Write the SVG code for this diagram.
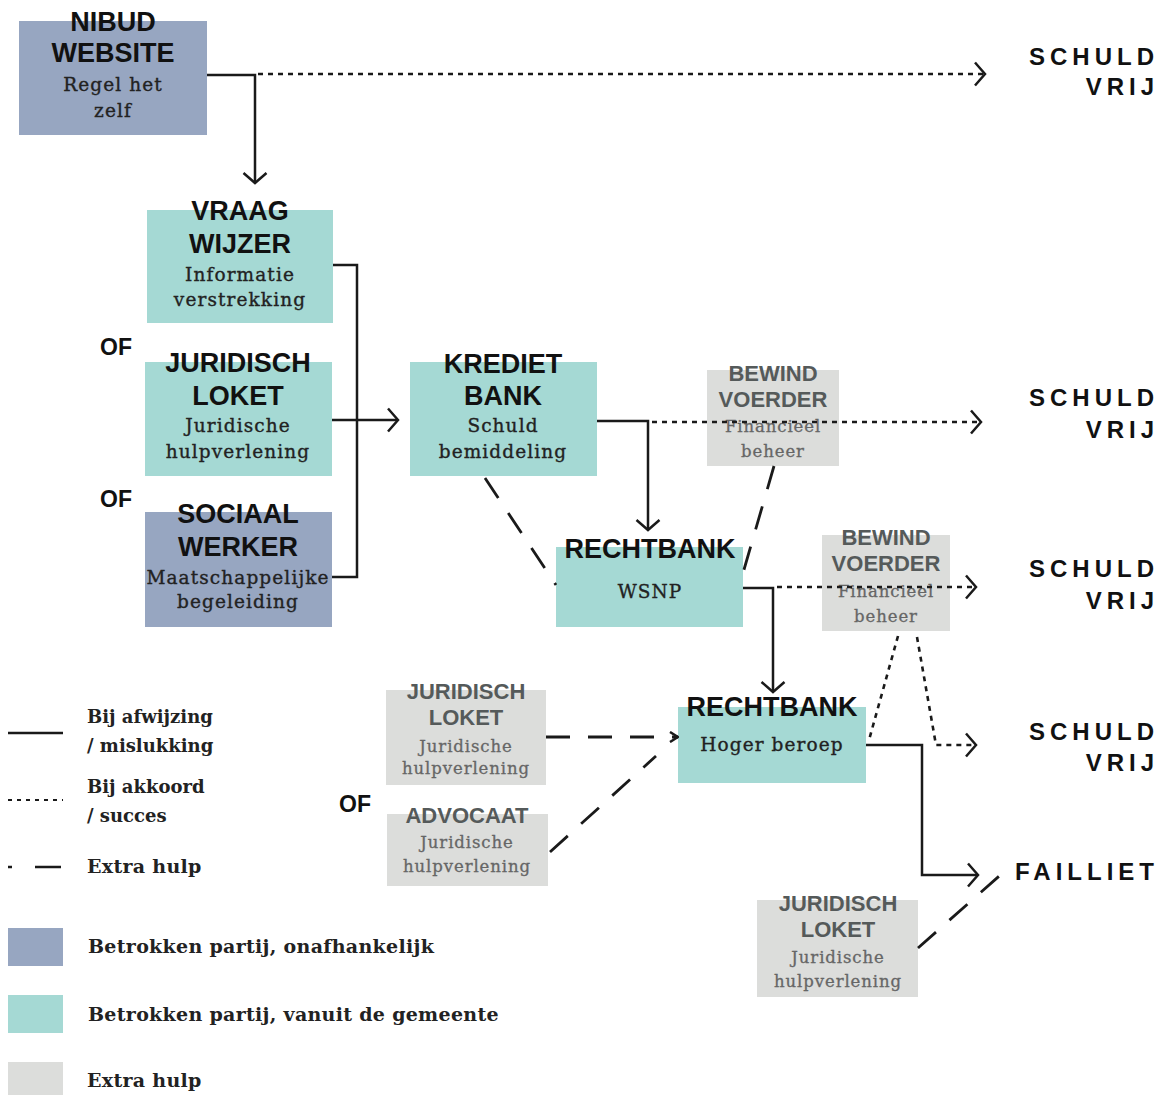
<svg xmlns="http://www.w3.org/2000/svg" width="1162" height="1095" viewBox="0 0 1162 1095">
<style>
.blue{fill:#97a6c1}
.teal{fill:#a5d9d4}
.gray{fill:#dcdddb}
.t{font-family:"Liberation Sans",Arial,sans-serif;font-weight:bold;font-size:27px;fill:#111;text-anchor:middle}
.tg{font-family:"Liberation Sans",Arial,sans-serif;font-weight:bold;font-size:22px;fill:#555a5a;text-anchor:middle}
.s{font-family:"DejaVu Serif",serif;font-size:18.5px;letter-spacing:1.1px;fill:#222;stroke:#222;stroke-width:0.35;text-anchor:middle}
.sg{font-family:"DejaVu Serif",serif;font-size:16.5px;letter-spacing:0.9px;fill:#666;stroke:#666;stroke-width:0.3;text-anchor:middle}
.end{font-family:"Liberation Sans",Arial,sans-serif;font-weight:bold;font-size:24px;letter-spacing:5px;fill:#111;text-anchor:end}
.of{font-family:"Liberation Sans",Arial,sans-serif;font-weight:bold;font-size:23px;fill:#111}
.lg{font-family:"DejaVu Serif",serif;font-weight:bold;font-size:18px;fill:#222}
.lg2{font-family:"DejaVu Serif",serif;font-weight:bold;font-size:19px;letter-spacing:0.3px;fill:#222}
.solid{fill:none;stroke:#1a1a1a;stroke-width:2.5}
.dot{fill:none;stroke:#1a1a1a;stroke-width:2.6;stroke-dasharray:5 5}
.dash{fill:none;stroke:#1a1a1a;stroke-width:2.8;stroke-dasharray:24 18}
</style>
<defs>
<marker id="arr" viewBox="0 0 13 26" refX="11.5" refY="13" markerWidth="13" markerHeight="26" markerUnits="userSpaceOnUse" orient="auto">
<path d="M1.5,1.5 L11.5,13 L1.5,24.5" fill="none" stroke="#1a1a1a" stroke-width="2.5"/>
</marker>
<marker id="arrs" viewBox="0 0 10 12" refX="9" refY="6" markerWidth="10" markerHeight="12" markerUnits="userSpaceOnUse" orient="auto">
<path d="M1,1 L9,6 L1,11" fill="none" stroke="#1a1a1a" stroke-width="2.5"/>
</marker>
</defs>
<rect width="1162" height="1095" fill="#ffffff"/>

<g id="nibud">
<rect class="blue" x="19" y="21" width="188" height="114"/>
<text class="t" x="113" y="31">NIBUD</text>
<text class="t" x="113" y="62">WEBSITE</text>
<text class="s" x="113" y="91">Regel het</text>
<text class="s" x="113" y="117">zelf</text>
</g>
<g id="vraagwijzer">
<rect class="teal" x="147" y="210" width="186" height="113"/>
<text class="t" x="240" y="220">VRAAG</text>
<text class="t" x="240" y="253">WIJZER</text>
<text class="s" x="240" y="281">Informatie</text>
<text class="s" x="240" y="306">verstrekking</text>
</g>
<g id="juridisch1">
<rect class="teal" x="145" y="362" width="187" height="114"/>
<text class="t" x="238" y="372">JURIDISCH</text>
<text class="t" x="238" y="405">LOKET</text>
<text class="s" x="238" y="432">Juridische</text>
<text class="s" x="238" y="458">hulpverlening</text>
</g>
<g id="sociaal">
<rect class="blue" x="145" y="512" width="187" height="115"/>
<text class="t" x="238" y="523">SOCIAAL</text>
<text class="t" x="238" y="556">WERKER</text>
<text class="s" x="238" y="584">Maatschappelijke</text>
<text class="s" x="238" y="608">begeleiding</text>
</g>
<g id="of-labels">
<text class="of" x="100" y="355">OF</text>
<text class="of" x="100" y="507">OF</text>
<text class="of" x="339" y="812">OF</text>
</g>
<g id="kredietbank">
<rect class="teal" x="410" y="362" width="187" height="114"/>
<text class="t" x="503" y="373">KREDIET</text>
<text class="t" x="503" y="405">BANK</text>
<text class="s" x="503" y="432">Schuld</text>
<text class="s" x="503" y="458">bemiddeling</text>
</g>
<g id="bewind1">
<rect class="gray" x="707" y="370" width="132" height="96"/>
<text class="tg" x="773" y="381">BEWIND</text>
<text class="tg" x="773" y="407">VOERDER</text>
<text class="sg" x="773" y="432">Financieel</text>
<text class="sg" x="773" y="457">beheer</text>
</g>
<g id="wsnp">
<rect class="teal" x="556" y="547" width="187" height="80"/>
<text class="t" x="650" y="558">RECHTBANK</text>
<text class="s" x="650" y="598">WSNP</text>
</g>
<g id="bewind2">
<rect class="gray" x="822" y="535" width="128" height="96"/>
<text class="tg" x="886" y="545">BEWIND</text>
<text class="tg" x="886" y="571">VOERDER</text>
<text class="sg" x="886" y="597">Financieel</text>
<text class="sg" x="886" y="622">beheer</text>
</g>
<g id="hogerberoep">
<rect class="teal" x="678" y="707" width="188" height="76"/>
<text class="t" x="772" y="716">RECHTBANK</text>
<text class="s" x="772" y="751">Hoger beroep</text>
</g>
<g id="juridisch2">
<rect class="gray" x="386" y="690" width="160" height="95"/>
<text class="tg" x="466" y="699">JURIDISCH</text>
<text class="tg" x="466" y="725">LOKET</text>
<text class="sg" x="466" y="752">Juridische</text>
<text class="sg" x="466" y="774">hulpverlening</text>
</g>
<g id="advocaat">
<rect class="gray" x="387" y="814" width="161" height="72"/>
<text class="tg" x="467" y="823">ADVOCAAT</text>
<text class="sg" x="467" y="848">Juridische</text>
<text class="sg" x="467" y="872">hulpverlening</text>
</g>
<g id="juridisch3">
<rect class="gray" x="757" y="900" width="161" height="97"/>
<text class="tg" x="838" y="911">JURIDISCH</text>
<text class="tg" x="838" y="937">LOKET</text>
<text class="sg" x="838" y="963">Juridische</text>
<text class="sg" x="838" y="987">hulpverlening</text>
</g>
<g id="schuldvrij1">
<text class="end" x="1159" y="65">SCHULD</text>
<text class="end" x="1159" y="95">VRIJ</text>
</g>
<g id="schuldvrij2">
<text class="end" x="1159" y="406">SCHULD</text>
<text class="end" x="1159" y="438">VRIJ</text>
</g>
<g id="schuldvrij3">
<text class="end" x="1159" y="577">SCHULD</text>
<text class="end" x="1159" y="609">VRIJ</text>
</g>
<g id="schuldvrij4">
<text class="end" x="1159" y="740">SCHULD</text>
<text class="end" x="1159" y="771">VRIJ</text>
</g>
<g id="failliet">
<text class="end" x="1159" y="880">FAILLIET</text>
</g>

<g id="connectors">
<path class="solid" d="M207,75 H255 V183" marker-end="url(#arr)"/>
<path class="dot" d="M258,74 H985" marker-end="url(#arr)"/>
<path class="solid" d="M333,265 H357 V577 H332"/>
<path class="solid" d="M332,420 H398" marker-end="url(#arr)"/>
<path class="solid" d="M597,421 H648 V530" marker-end="url(#arr)"/>
<path class="dot" d="M652,422 H981" marker-end="url(#arr)"/>
<path class="dash" d="M485,478 L556,585"/>
<path class="dash" d="M774,466 L741,580"/>
<path class="solid" d="M743,588 H773 V692" marker-end="url(#arr)"/>
<path class="dot" d="M777,587 H976" marker-end="url(#arr)"/>
<path class="dot" d="M898,636 L869,740"/>
<path class="dot" d="M917,637 L936,745 H976" marker-end="url(#arr)"/>
<path class="solid" d="M866,745 H922 V875 H978" marker-end="url(#arr)"/>
<path class="dash" d="M546,737 H678" marker-end="url(#arrs)"/>
<path class="dash" d="M550,852 L656,756"/>
<path class="dash" d="M918,948 L1006,870"/>
</g>

<g id="legend">
<path class="solid" d="M8,733 H63"/>
<text class="lg" x="87" y="723">Bij afwijzing</text>
<text class="lg" x="87" y="752">/ mislukking</text>
<path fill="none" stroke="#1a1a1a" stroke-width="1.8" stroke-dasharray="4 5" d="M8,800 H63"/>
<text class="lg" x="87" y="793">Bij akkoord</text>
<text class="lg" x="87" y="822">/ succes</text>
<path class="solid" d="M8,867 H12 M35,867 H61"/>
<text class="lg2" x="87" y="873">Extra hulp</text>
<rect class="blue" x="8" y="928" width="55" height="38"/>
<text class="lg2" x="88" y="953">Betrokken partij, onafhankelijk</text>
<rect class="teal" x="8" y="995" width="55" height="38"/>
<text class="lg2" x="88" y="1021">Betrokken partij, vanuit de gemeente</text>
<rect class="gray" x="8" y="1062" width="55" height="33"/>
<text class="lg2" x="87" y="1087">Extra hulp</text>
</g>
</svg>
